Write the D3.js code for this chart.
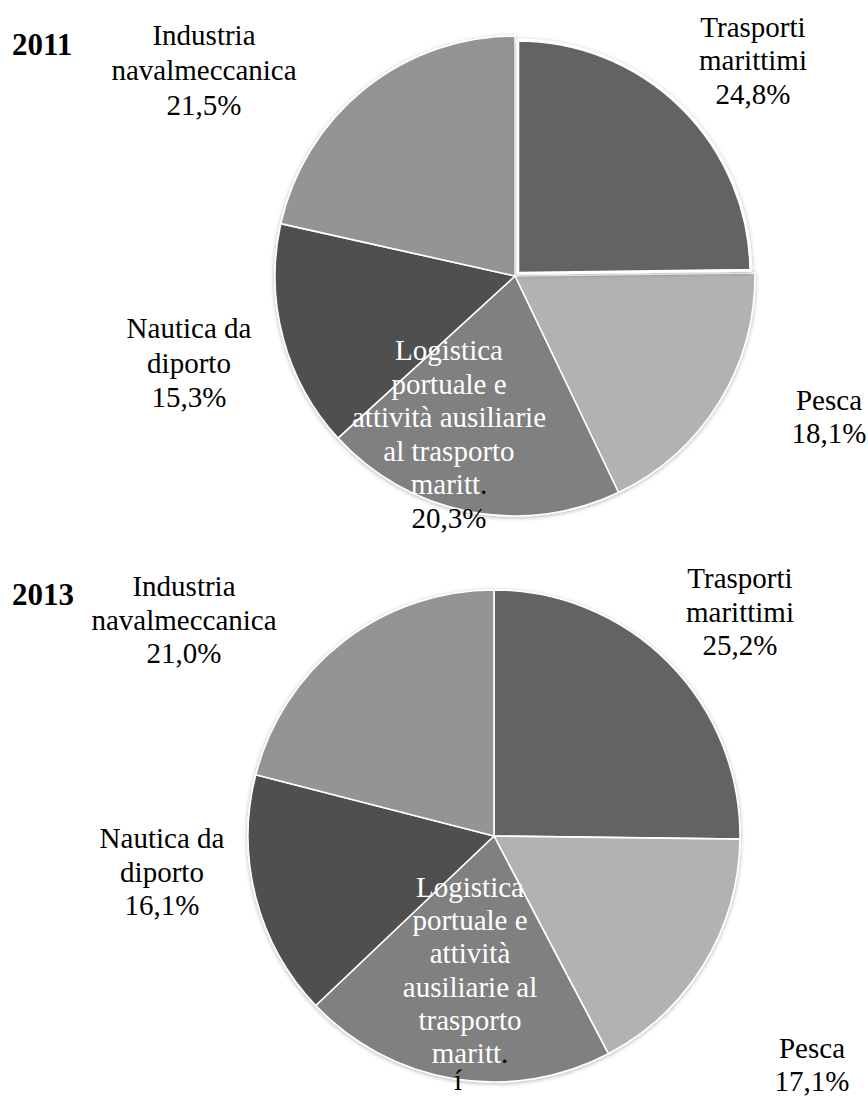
<!DOCTYPE html>
<html>
<head>
<meta charset="utf-8">
<script src="https://cdn.jsdelivr.net/npm/d3@7"></script>
<style>
  html, body { margin: 0; padding: 0; background: #fff; }
  svg { display: block; }
</style>
</head>
<body>
<div id="chart"></div>
<script>
// Sectors of the maritime economy, clockwise from 12 o'clock
const sectors = ["Trasporti marittimi", "Pesca", "Logistica portuale e attività ausiliarie al trasporto maritt.", "Nautica da diporto", "Industria navalmeccanica"];
const years = ["2011", "2013"];
const values2011 = [24.8, 18.1, 20.3, 15.3, 21.5];
const values2013 = [25.2, 17.1, 20.6, 16.1, 21.0];
const shades = ["#636363", "#b2b2b2", "#808080", "#4f4f4f", "#949494"];
// Line breaks of each slice label (the last line "maritt." ends with a dark full stop)
const lines2011 = [["Trasporti", "marittimi"], ["Pesca"], ["Logistica", "portuale e", "attività ausiliarie", "al trasporto", "maritt"], ["Nautica da", "diporto"], ["Industria", "navalmeccanica"]];
const lines2013 = [["Trasporti", "marittimi"], ["Pesca"], ["Logistica", "portuale e", "attività", "ausiliarie al", "trasporto", "maritt"], ["Nautica da", "diporto"], ["Industria", "navalmeccanica"]];

const W = 868, H = 1097;
const FONT = "'Liberation Serif', 'Times New Roman', Times, serif";
const it = d3.formatLocale({ decimal: ",", thousands: ".", grouping: [3], currency: ["", " €"] });
const pct = v => it.format(".1f")(v) + "%";

const svg = d3.select("#chart").append("svg").attr("width", W).attr("height", H);

const defs = svg.append("defs");
const f = defs.append("filter").attr("id", "soft").attr("x", "-10%").attr("y", "-10%").attr("width", "120%").attr("height", "120%");
f.append("feDropShadow").attr("dx", 0).attr("dy", 1).attr("stdDeviation", 2.2)
  .attr("flood-color", "#000").attr("flood-opacity", 0.3);

const pie = d3.pie().sort(null).value(d => d);

// Layout of each panel: pie geometry and label anchors
const panels = [
  {
    year: years[0], values: values2011, lines: lines2011,
    cx: 515, cy: 276, r: 240, explode: { index: 0, offset: 4, r: 233 },
    yearPos: [12, 55],
    labels: [
      { x: 753, y: 37, dy: 33.3 },
      { x: 829, y: 410, dy: 33 },
      { x: 449, y: 360, dy: 33.6, inside: true },
      { x: 189, y: 338, dy: 34.5 },
      { x: 204, y: 45, dy: 35 }
    ]
  },
  {
    year: years[1], values: values2013, lines: lines2013,
    cx: 494, cy: 836, r: 246, explode: null,
    yearPos: [12, 605],
    labels: [
      { x: 740, y: 588, dy: 33.5 },
      { x: 812, y: 1058, dy: 33 },
      { x: 470, y: 897, dy: 33.2, inside: true, cut: true },
      { x: 162, y: 848, dy: 33.5 },
      { x: 184, y: 596, dy: 33.5 }
    ]
  }
];

panels.forEach(p => {
  const g = svg.append("g").attr("transform", `translate(${p.cx},${p.cy})`);
  const arcs = pie(p.values);
  const arc = d3.arc().innerRadius(0).outerRadius(p.r);

  const body = g.append("g").attr("filter", "url(#soft)");
  body.selectAll("path.slice")
    .data(arcs.filter((d, i) => !p.explode || i !== p.explode.index))
    .join("path")
    .attr("class", "slice")
    .attr("d", arc)
    .attr("fill", d => shades[d.index])
    .attr("stroke", "#fff")
    .attr("stroke-width", 1.6)
    .attr("stroke-linejoin", "round");

  if (p.explode) {
    const d = arcs[p.explode.index];
    const mid = (d.startAngle + d.endAngle) / 2;
    const off = p.explode.offset;
    const exArc = d3.arc().innerRadius(0).outerRadius(p.explode.r);
    g.append("path")
      .attr("transform", `translate(${off * Math.sin(mid)},${-off * Math.cos(mid)})`)
      .attr("d", exArc(d))
      .attr("fill", shades[d.index])
      .attr("stroke", "#fff")
      .attr("stroke-width", 3)
      .attr("stroke-linejoin", "round")
      .attr("filter", "url(#soft)");
  }

  // Year heading
  svg.append("text")
    .attr("x", p.yearPos[0]).attr("y", p.yearPos[1])
    .attr("font-family", FONT)
    .attr("font-size", 31).attr("font-weight", "bold").attr("fill", "#000")
    .text(p.year);

  // Slice labels: category name lines, then the share
  p.labels.forEach((L, i) => {
    const t = svg.append("text")
      .attr("x", L.x).attr("y", L.y)
      .attr("text-anchor", "middle")
      .attr("font-family", FONT)
      .attr("font-size", 29)
      .attr("fill", "#000");
    const nameLines = p.lines[i];
    nameLines.forEach((ln, k) => {
      const last = k === nameLines.length - 1;
      t.append("tspan")
        .attr("x", L.x)
        .attr("dy", k === 0 ? 0 : L.dy)
        .attr("fill", L.inside ? "#fff" : "#000")
        .text(ln);
      if (L.inside && last) {
        t.append("tspan").attr("fill", "#000").text(".");
      }
    });
    if (!L.cut) {
      t.append("tspan").attr("x", L.x).attr("dy", L.dy).attr("fill", "#000").text(pct(p.values[i]));
    }
  });
});

// Mark under the 2013 logistics slice, at the bottom edge
svg.append("text")
  .attr("x", 458).attr("y", 1090)
  .attr("text-anchor", "middle")
  .attr("font-family", FONT)
  .attr("font-size", 29).attr("fill", "#000")
  .text("í");
</script>
</body>
</html>
